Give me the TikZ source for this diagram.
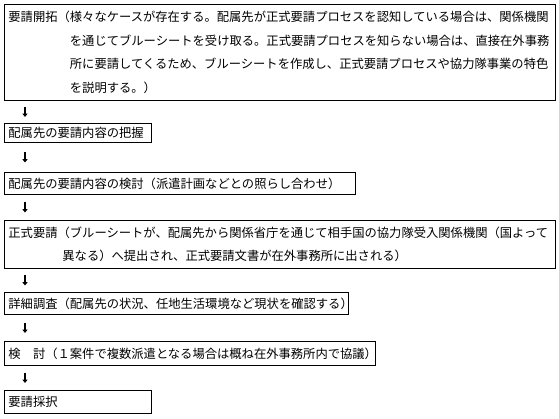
\documentclass[tikz,border=0pt]{standalone}
\usepackage{fontspec}
\newfontfamily\jp{Noto Sans CJK JP}
\usetikzlibrary{arrows.meta}
\tikzset{
  stepbox/.style={draw, line width=0.8bp, anchor=north west, inner xsep=4bp, inner ysep=0pt,
    align=left, font=\jp\fontsize{12.3bp}{23.7bp}\selectfont},
  flow/.style={line width=1.7bp, -{Triangle[length=3.2bp,width=5bp]}}
}
\begin{document}
\begin{tikzpicture}[x=1bp,y=-1bp]
\useasboundingbox (0,0) rectangle (559,418);
\node[stepbox, minimum width=551bp, minimum height=96bp, text width=543bp] (b1) at (4,4)
 {要請開拓（様々なケースが存在する。配属先が正式要請プロセスを認知している場合は、関係機関\\
 \hphantom{要請開拓（}を通じてブルーシートを受け取る。正式要請プロセスを知らない場合は、直接在外事務\\
 \hphantom{要請開拓（}所に要請してくるため、ブルーシートを作成し、正式要請プロセスや協力隊事業の特色\\
 \hphantom{要請開拓（}を説明する。）};
\node[stepbox, minimum width=147bp, minimum height=19bp, text width=139bp] (b2) at (4,123)
 {配属先の要請内容の把握};
\node[stepbox, minimum width=351bp, minimum height=22bp, text width=343bp] (b3) at (4,172)
 {配属先の要請内容の検討（派遣計画などとの照らし合わせ）};
\node[stepbox, minimum width=551bp, minimum height=48bp, text width=543bp] (b4) at (4,220)
 {正式要請（ブルーシートが、配属先から関係省庁を通じて相手国の協力隊受入関係機関（国よって\\
 \hspace*{54bp}異なる）へ提出され、正式要請文書が在外事務所に出される）};
\node[stepbox, minimum width=344bp, minimum height=22bp, text width=336bp] (b5) at (4,292)
 {詳細調査（配属先の状況、任地生活環境など現状を確認する）};
\node[stepbox, minimum width=371bp, minimum height=24bp, text width=363bp] (b6) at (4,341)
 {検　討（１案件で複数派遣となる場合は概ね在外事務所内で協議）};
\node[stepbox, minimum width=147bp, minimum height=23bp, text width=139bp] (b7) at (4,390)
 {要請採択};
\foreach \a/\b in {b1/b2,b2/b3,b3/b4,b4/b5,b5/b6,b6/b7}{
  \path ([xshift=21bp]\a.south west) -- ([xshift=21bp]\b.north west) coordinate[pos=0.5] (m\a);
  \draw[flow] ([yshift=5bp]m\a) -- ([yshift=-5bp]m\a);
}
\end{tikzpicture}
\end{document}
